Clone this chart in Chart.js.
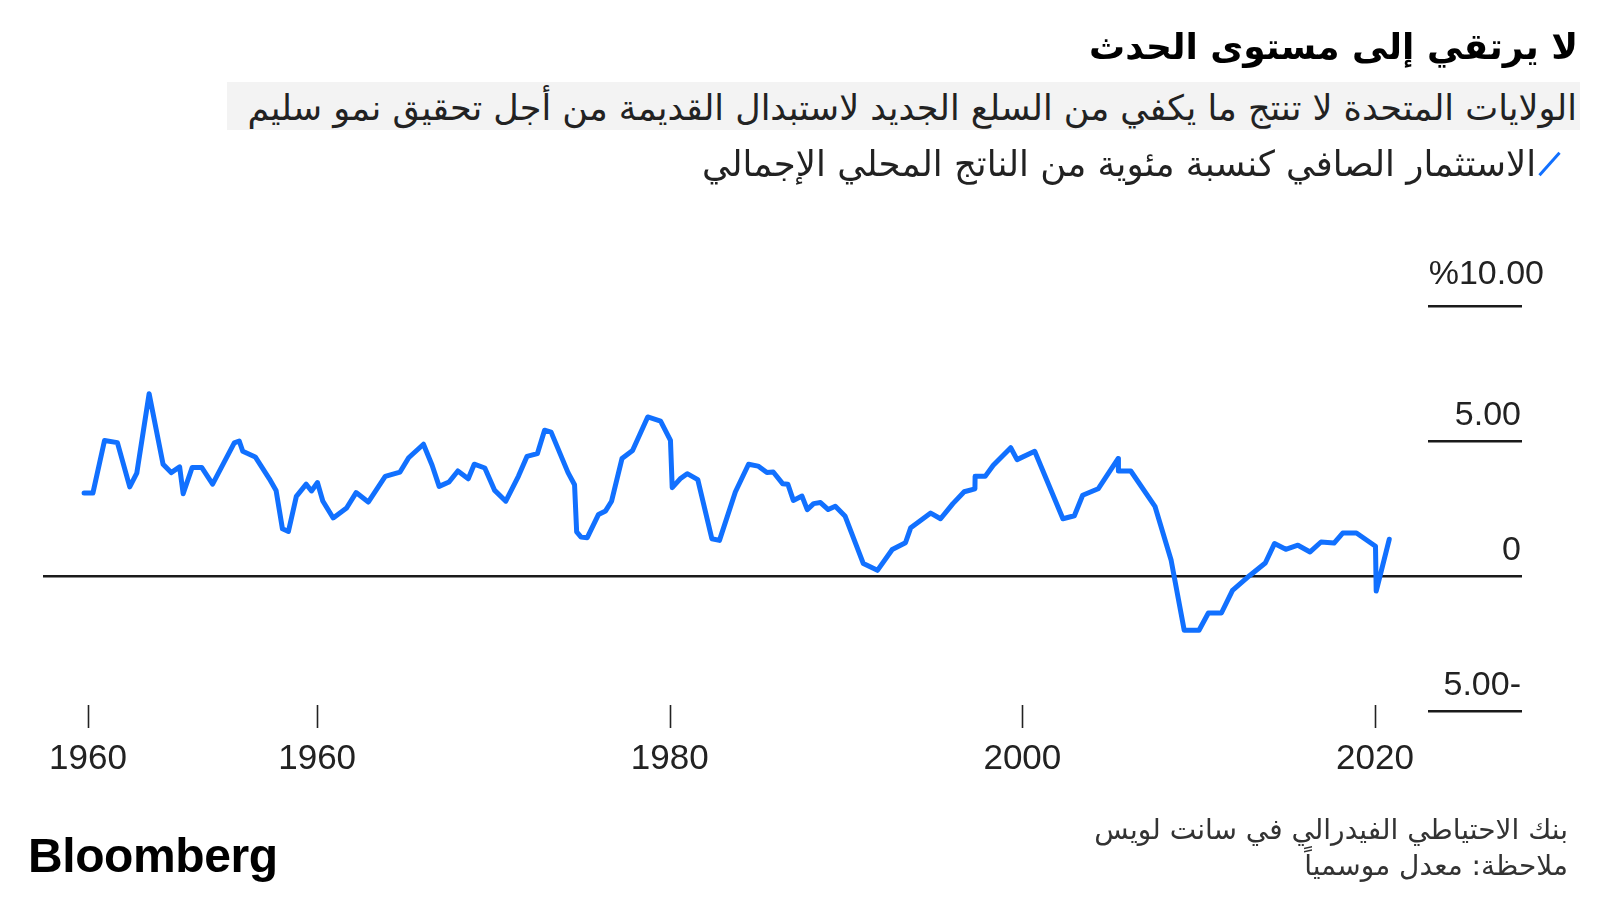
<!DOCTYPE html>
<html lang="ar">
<head>
<meta charset="utf-8">
<script src="https://cdn.jsdelivr.net/npm/chart.js@4.4.1/dist/chart.umd.min.js"></script>
<style>
  html, body { margin: 0; padding: 0; background: #ffffff; }
  body { width: 1600px; height: 900px; position: relative; overflow: hidden; font-family: "DejaVu Sans", sans-serif; }
  #chart { position: absolute; left: 0; top: 0; }
  .rtl { direction: rtl; position: absolute; white-space: nowrap; }
  #title { right: 22px; top: 25px; font-size: 36px; font-weight: bold; color: #000; line-height: 44px; }
  #subtitle { left: 227px; top: 82px; width: 1353px; height: 48px; background: #f3f3f3; }
  #subtitle span { position: absolute; right: 3px; top: 4px; font-size: 35px; line-height: 44px; color: #222; }
  #legend { right: 39px; top: 142px; font-size: 35.5px; line-height: 44px; color: #222; display: flex; align-items: center; }
  #legend .sw { display: inline-block; width: 3px; height: 30px; transform: rotate(42deg); margin-left: 12px; margin-right: 10px; }
  #source { right: 32px; top: 812px; font-size: 28px; line-height: 36px; color: #333; text-align: right; }
  #logo { position: absolute; left: 28px; top: 828px; font-family: "Liberation Sans", Arial, sans-serif; font-weight: bold; font-size: 48px; letter-spacing: -0.4px; color: #000; }
</style>
</head>
<body>
<canvas id="chart" width="1600" height="900"></canvas>
<div id="title" class="rtl">لا يرتقي إلى مستوى الحدث</div>
<div id="subtitle" class="rtl"><span>الولايات المتحدة لا تنتج ما يكفي من السلع الجديد لاستبدال القديمة من أجل تحقيق نمو سليم</span></div>
<div id="legend" class="rtl"></div>
<div id="source" class="rtl">بنك الاحتياطي الفيدرالي في سانت لويس<br>ملاحظة: معدل موسمياً</div>
<div id="logo">Bloomberg</div>
<script>
// ---- data ----
const seriesLabel = "الاستثمار الصافي كنسبة مئوية من الناتج المحلي الإجمالي";

const years = [
  1946.78,1947.28,1947.94,1948.67,1949.37,1949.77,1950.47,1951.26,1951.72,1952.20,
  1952.40,1952.91,1953.45,1954.07,1955.30,1955.58,1955.78,1956.49,1957.29,1957.67,
  1958.03,1958.37,1958.82,1959.38,1959.68,1960.02,1960.32,1960.91,1961.67,1962.21,
  1962.90,1963.86,1964.70,1965.19,1966.03,1966.52,1966.92,1967.48,1967.98,1968.57,
  1968.91,1969.51,1970.07,1970.70,1971.42,1971.90,1972.49,1972.90,1973.27,1974.23,
  1974.60,1974.72,1974.97,1975.32,1975.96,1976.36,1976.70,1977.29,1977.89,1978.75,
  1979.48,1980.04,1980.14,1980.59,1980.99,1981.59,1982.39,1982.82,1983.72,1984.47,
  1985.01,1985.51,1985.87,1986.40,1986.70,1987.01,1987.50,1987.80,1988.16,1988.55,
  1988.99,1989.39,1989.95,1990.98,1991.78,1992.62,1993.37,1993.67,1994.80,1995.36,
  1996.06,1996.70,1997.31,1997.32,1997.89,1998.35,1999.34,1999.70,2000.70,2002.30,
  2002.95,2003.42,2004.30,2005.43,2005.45,2006.15,2007.52,2008.44,2009.18,2010.02,
  2010.55,2011.29,2011.92,2012.90,2013.78,2014.30,2014.94,2015.63,2016.32,2016.94,
  2017.68,2018.17,2018.95,2020.03,2020.07,2020.81
];

const netInvestment = [
  3.07,3.07,5.02,4.94,3.30,3.81,6.75,4.14,3.83,4.04,
  3.05,4.02,4.02,3.40,4.93,5.00,4.62,4.41,3.60,3.17,
  1.75,1.65,2.95,3.40,3.15,3.46,2.78,2.15,2.52,3.09,
  2.74,3.69,3.85,4.38,4.88,4.10,3.32,3.48,3.89,3.60,
  4.14,4.00,3.17,2.77,3.70,4.43,4.53,5.40,5.33,3.83,
  3.38,1.63,1.44,1.42,2.28,2.41,2.77,4.35,4.65,5.89,
  5.74,5.02,3.27,3.60,3.79,3.57,1.38,1.32,3.11,4.14,
  4.07,3.83,3.85,3.42,3.40,2.80,2.96,2.46,2.68,2.72,
  2.46,2.58,2.21,0.46,0.21,0.98,1.23,1.79,2.33,2.12,
  2.68,3.12,3.23,3.69,3.69,4.10,4.75,4.31,4.62,2.12,
  2.23,2.99,3.23,4.35,3.89,3.89,2.58,0.58,-2.01,-2.01,
  -1.37,-1.37,-0.53,0.02,0.48,1.20,0.99,1.14,0.89,1.26,
  1.22,1.59,1.59,1.10,-0.56,1.36
];

const xTickValues = [1947, 1960, 1980, 2000, 2020];
const xTickLabels = ["1960", "1960", "1980", "2000", "2020"];
const yTickValues = [-5, 0, 5, 10];
const yTickLabels = ["5.00-", "0", "5.00", "%10.00"];

// ---- styling ----
const LINE_BLUE = "#1170ff";
const INK = "#1a1a1a";
const NUM_FONT = '"Liberation Sans", Arial, sans-serif';

// legend built from the dataset label
document.getElementById("legend").innerHTML =
  '<span class="sw" style="background:' + LINE_BLUE + '"></span><span>' + seriesLabel + '</span>';

const axisDecor = {
  id: "axisDecor",
  beforeDatasetsDraw(chart) {
    const { ctx, chartArea, scales } = chart;
    const y = scales.y, x = scales.x;
    ctx.save();
    ctx.strokeStyle = INK;
    ctx.lineWidth = 2.5;
    yTickValues.forEach((v) => {
      const py = Math.round(y.getPixelForValue(v)) + 0.25;
      ctx.beginPath();
      ctx.moveTo(v === 0 ? chartArea.left : chartArea.right - 94, py);
      ctx.lineTo(chartArea.right, py);
      ctx.stroke();
    });
    // x tick marks
    ctx.lineWidth = 1.6;
    ctx.strokeStyle = "#222";
    const base = y.getPixelForValue(-5);
    xTickValues.forEach((v) => {
      const px = Math.round(x.getPixelForValue(v)) + 0.5;
      ctx.beginPath();
      ctx.moveTo(px, base - 6);
      ctx.lineTo(px, base + 17);
      ctx.stroke();
    });
    ctx.restore();
  },
  afterDraw(chart) {
    const { ctx, chartArea, scales } = chart;
    const y = scales.y;
    ctx.save();
    ctx.fillStyle = "#222";
    ctx.font = "34px " + NUM_FONT;
    ctx.textAlign = "right";
    ctx.textBaseline = "alphabetic";
    yTickValues.forEach((v, i) => {
      const py = y.getPixelForValue(v);
      const isTop = i === yTickValues.length - 1;
      ctx.fillText(yTickLabels[i], chartArea.right + (isTop ? 22 : -1), py - (isTop ? 22 : 16));
    });
    ctx.restore();
  }
};

new Chart(document.getElementById("chart"), {
  type: "line",
  data: {
    datasets: [{
      label: seriesLabel,
      data: years.map((yr, i) => ({ x: yr, y: netInvestment[i] })),
      borderColor: LINE_BLUE,
      borderWidth: 5,
      pointRadius: 0,
      tension: 0,
      fill: false,
      borderJoinStyle: "round",
      borderCapStyle: "round",
      clip: false
    }]
  },
  options: {
    responsive: false,
    animation: false,
    events: [],
    layout: { padding: { left: 43, right: 78, top: 306, bottom: 93 } },
    plugins: { legend: { display: false }, tooltip: { enabled: false } },
    scales: {
      x: {
        type: "linear",
        min: 1944.45,
        max: 2028.34,
        afterBuildTicks(axis) { axis.ticks = xTickValues.map((v) => ({ value: v })); },
        ticks: {
          autoSkip: false,
          maxRotation: 0,
          padding: 27,
          color: "#222",
          font: { family: NUM_FONT, size: 35 },
          callback: (v, i) => xTickLabels[i]
        },
        grid: { display: false, drawTicks: false },
        border: { display: false }
      },
      y: {
        type: "linear",
        min: -5,
        max: 10,
        display: false
      }
    }
  },
  plugins: [axisDecor]
});
</script>
</body>
</html>
